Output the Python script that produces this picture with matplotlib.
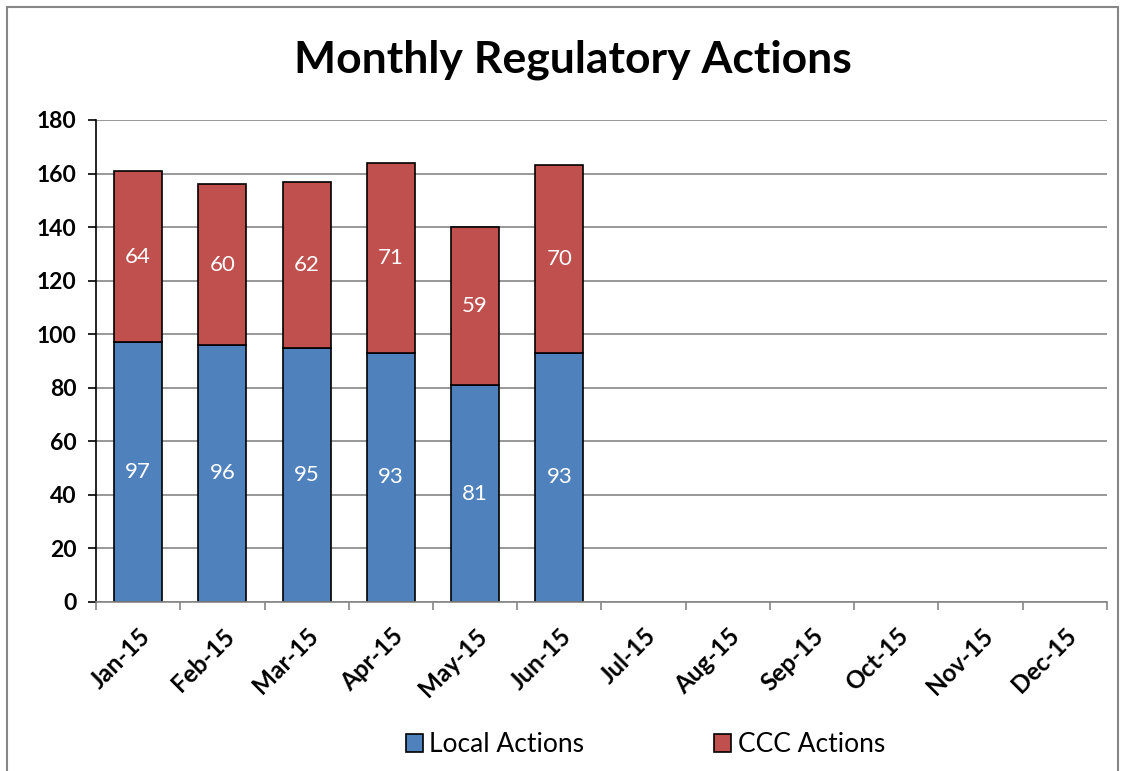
import numpy as np
import matplotlib.pyplot as plt
from matplotlib.patches import Rectangle

plt.rcParams['font.family'] = ['Lato', 'DejaVu Sans']

months = ["Jan-15", "Feb-15", "Mar-15", "Apr-15", "May-15", "Jun-15",
          "Jul-15", "Aug-15", "Sep-15", "Oct-15", "Nov-15", "Dec-15"]
local_actions = [97, 96, 95, 93, 81, 93]
ccc_actions = [64, 60, 62, 71, 59, 70]

blue = "#4f81bd"
red = "#c0504d"

fig = plt.figure(figsize=(11.3, 7.71), dpi=100)
ax = fig.add_axes([0.085, 0.2192, 0.8946, 0.6252])

# outer chart border
fig.patches.append(Rectangle((7 / 1130, -0.05), 1111 / 1130, 1.05 - 7 / 771,
                             transform=fig.transFigure, fill=False,
                             edgecolor="#868686", linewidth=1.5))

n = len(local_actions)
x = np.arange(n)
b1 = ax.bar(x, local_actions, width=0.57, color=blue, edgecolor="black",
            linewidth=1.2, label="Local Actions", zorder=3)
b2 = ax.bar(x, ccc_actions, width=0.57, bottom=local_actions, color=red,
            edgecolor="black", linewidth=1.2, label="CCC Actions", zorder=3)

for i in range(n):
    ax.text(x[i], local_actions[i] / 2, str(local_actions[i]), ha="center",
            va="center", color="white", fontsize=16, zorder=4)
    ax.text(x[i], local_actions[i] + ccc_actions[i] / 2, str(ccc_actions[i]),
            ha="center", va="center", color="white", fontsize=16, zorder=4)

ax.set_xlim(-0.5, len(months) - 0.5)
ax.set_ylim(0, 180)
ax.set_yticks(range(0, 181, 20))
ax.grid(axis="y", color="#868686", linewidth=1.2, zorder=0)

ax.set_xticks(np.arange(len(months)))
ax.set_xticklabels(months, rotation=45, ha="right", rotation_mode="anchor",
                   fontweight="bold", fontsize=17.5)
ax.tick_params(axis="x", length=0, pad=16)
ax.set_xticks(np.arange(len(months) + 1) - 0.5, minor=True)
ax.tick_params(axis="x", which="minor", length=6, color="#868686", width=1.2)
ax.tick_params(axis="y", length=6, width=1.2, color="black", labelsize=16.5,
               pad=8)
for lab in ax.get_yticklabels():
    lab.set_fontweight("bold")

for s in ["top", "right"]:
    ax.spines[s].set_visible(False)
ax.spines["left"].set_color("black")
ax.spines["left"].set_linewidth(1.2)
ax.spines["bottom"].set_color("#868686")
ax.spines["bottom"].set_linewidth(1.2)
ax.spines["bottom"].set_zorder(5)

fig.text(0.507, 0.922, "Monthly Regulatory Actions", ha="center", va="center",
         fontsize=32, fontweight="bold")

fig.legend(handles=[b1, b2], loc="center", bbox_to_anchor=(0.571, 0.034),
           ncol=2, frameon=False, fontsize=19, handlelength=0.65,
           handleheight=0.65, handletextpad=0.25, columnspacing=4.9)

fig.savefig("out.png", dpi=100)
